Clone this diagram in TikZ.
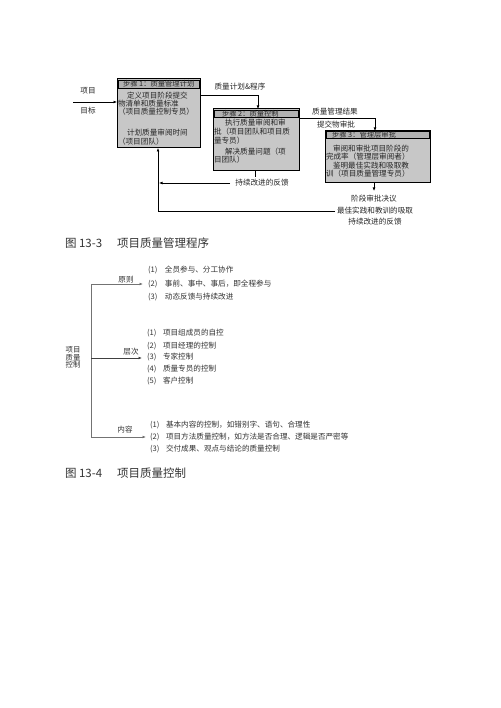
\documentclass[tikz,border=0pt]{standalone}
\usepackage{fontspec}
\newfontfamily\cjk{Noto Sans CJK SC}
\usetikzlibrary{arrows.meta}
\begin{document}
\begin{tikzpicture}[x=1pt,y=-1pt,
  every node/.style={inner sep=0pt, outer sep=0pt},
  txt/.style={font=\cjk\fontsize{7.6}{9}\selectfont, text=black!85},
  btxt/.style={txt, anchor=west},
  hdrtxt/.style={font=\cjk\fontsize{7.3}{9}\selectfont, text=black!85, anchor=west},
  captxt/.style={font=\cjk\fontsize{11.5}{13}\selectfont, text=black!80, anchor=west},
  box/.style={draw=black, line width=1pt, fill=black!22, rectangle},
  hdr/.style={draw=black, line width=0.6pt, fill=black!30, rectangle},
  conn/.style={draw=black, line width=0.6pt},
  arr/.style={conn, -{Latex[length=3.5pt,width=2.8pt]}},
  item/.style={font=\cjk\fontsize{7.6}{9}\selectfont, text=black!80, anchor=west},
  glab/.style={font=\cjk\fontsize{7.6}{9}\selectfont, text=black!80},
  gconn/.style={draw=black!55, line width=0.8pt},
  garr/.style={gconn, -{Latex[length=3.5pt,width=2.8pt]}},
]
\useasboundingbox[fill=white] (0,0) rectangle (500,708);

% ---------- Figure 13-3 ----------
% Box 1
\node[box, minimum width=83pt, minimum height=69pt] (b1) at (158.5,113.5) {};
\node[hdr, minimum width=81pt, minimum height=8pt] (h1) at (158.5,84) {};
\node[hdrtxt] (h1t) at (123,84) {步骤 1：质量管理计划};
\node[btxt] (t1a) at (127,96) {定义项目阶段提交};
\node[btxt] (t1b) at (118,104) {物清单和质量标准};
\node[btxt] (t1c) at (118,112) {（项目质量控制专员）};
\node[btxt] (t1d) at (127,133) {计划质量审阅时间};
\node[btxt] (t1e) at (118,142) {（项目团队）};

% Box 2
\node[box, minimum width=86pt, minimum height=62pt] (b2) at (256,140) {};
\node[hdr, minimum width=84pt, minimum height=7pt] (h2) at (256,113.5) {};
\node[hdrtxt] (h2t) at (222,113.5) {步骤 2：质量控制};
\node[btxt] (t2a) at (225,123) {执行质量审阅和审};
\node[btxt] (t2b) at (214,132) {批（项目团队和项目质};
\node[btxt] (t2c) at (214,141) {量专员）};
\node[btxt] (t2d) at (225,152) {解决质量问题（项};
\node[btxt] (t2e) at (214,160) {目团队）};

% Box 3
\node[box, minimum width=105pt, minimum height=52pt] (b3) at (377.5,157) {};
\node[hdr, minimum width=103pt, minimum height=6.5pt] (h3) at (377.5,135) {};
\node[hdrtxt] (h3t) at (332,135) {步骤 3：管理层审批};
\node[btxt] (t3a) at (333,149) {审阅和审批项目阶段的};
\node[btxt] (t3b) at (326,157) {完成率（管理层审阅者）};
\node[btxt] (t3c) at (333,166) {鉴明最佳实践和吸取教};
\node[btxt] (t3d) at (326,174) {训（项目质量管理专员）};

% Input arrow
\coordinate (in) at (73,102);
\node[txt] (l1) at (88,91) {项目};
\node[txt] (l2) at (88,111) {目标};
\draw[arr] (in) -- (in -| b1.west);

% Box1 -> Box2
\coordinate (c1) at (258,95);
\node[txt] (l3) at (240,87) {质量计划\&程序};
\draw[arr] (c1 -| b1.east) -- (c1) -- (c1 |- b2.north);

% Box2 -> Box3
\coordinate (c2) at (375,118);
\node[txt] (l4) at (335,112) {质量管理结果};
\node[txt] (l5) at (336,125) {提交物审批};
\draw[arr] (c2 -| b2.east) -- (c2) -- (c2 |- b3.north);

% Box2 feedback
\coordinate (c3) at (255,177);
\draw[conn] (c3 |- b2.south) -- (c3);
\node[txt] (fb1) at (262,183) {持续改进的反馈};
\coordinate (c4) at (230,183);
\coordinate (c5) at (159,183);
\draw[arr] (c4) -- (c5);

% Box3 output
\coordinate (c6) at (374,191);
\draw[arr] (c6 |- b3.south) -- (c6);
\node[txt] (o1) at (374,199) {阶段审批决议};
\node[txt] (lp) at (375,211) {最佳实践和教训的吸取};
\node[txt] (o3) at (375,222) {持续改进的反馈};
\coordinate (c7) at (158,211);
\draw[arr] ([xshift=-2pt]lp.west) -- (c7) -- (c7 |- b1.south);

\node[captxt] (cap1) at (65,243) {图 13-3\hspace{15pt}项目质量管理程序};

% ---------- Figure 13-4 ----------
\coordinate (v1) at (91,284);
\coordinate (v2) at (91,437);
\coordinate (v3) at (91,358);
\coordinate (a1) at (143,284);
\coordinate (a2) at (142,358);
\coordinate (a3) at (146,437);
\draw[gconn] (v1) -- (v2);
\draw[garr] (v1) -- (a1);
\draw[garr, draw=black!75, line width=1pt] (v3) -- (a2);
\draw[garr] (v2) -- (a3);

\node[glab, align=center, font=\cjk\fontsize{7.4}{7.6}\selectfont] (root) at (73,357.5) {项目\\质量\\控制};
\node[glab] (g1) at (126,280) {原则};
\node[glab] (g2) at (131,352) {层次};
\node[glab] (g3) at (125,430) {内容};

\node[item] (p1) at (148,270) {\makebox[17pt][l]{(1)}全员参与、分工协作};
\node[item] (p2) at (148,284) {\makebox[17pt][l]{(2)}事前、事中、事后，即全程参与};
\node[item] (p3) at (148,297) {\makebox[17pt][l]{(3)}动态反馈与持续改进};

\node[item] (q1) at (147,333) {\makebox[16pt][l]{(1)}项目组成员的自控};
\node[item] (q2) at (147,346) {\makebox[16pt][l]{(2)}项目经理的控制};
\node[item] (q3) at (147,357) {\makebox[16pt][l]{(3)}专家控制};
\node[item] (q4) at (147,369) {\makebox[16pt][l]{(4)}质量专员的控制};
\node[item] (q5) at (147,381) {\makebox[16pt][l]{(5)}客户控制};

\node[item] (r1) at (150,425) {\makebox[16pt][l]{(1)}基本内容的控制，如错别字、语句、合理性};
\node[item] (r2) at (150,437) {\makebox[16pt][l]{(2)}项目方法质量控制，如方法是否合理、逻辑是否严密等};
\node[item] (r3) at (150,449) {\makebox[16pt][l]{(3)}交付成果、观点与结论的质量控制};

\node[captxt] (cap2) at (65,473) {图 13-4\hspace{15pt}项目质量控制};
\end{tikzpicture}
\end{document}
